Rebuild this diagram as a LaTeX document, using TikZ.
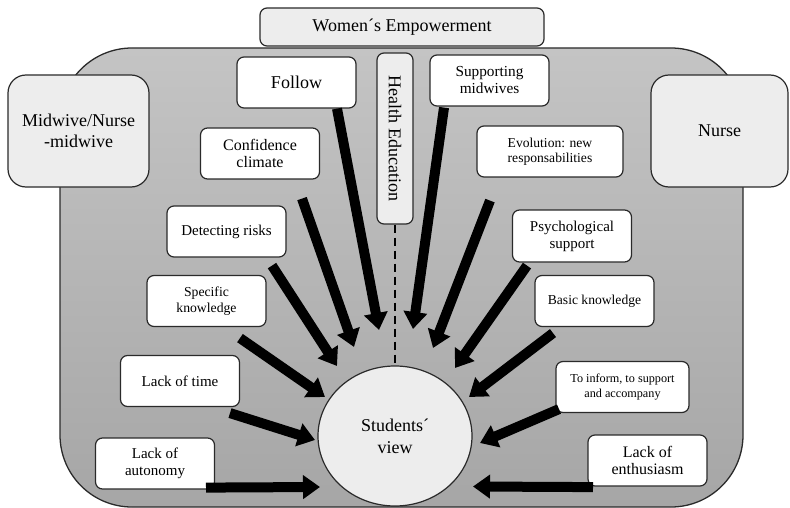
\documentclass[tikz,border=0pt]{standalone}
\usepackage{fontspec}
\setmainfont{Liberation Serif}
\usepackage{tikz}
\usetikzlibrary{arrows.meta,shapes.geometric,calc}
\definecolor{svline}{HTML}{2A2A2A}
\definecolor{svlight}{HTML}{EDEDED}
\definecolor{svtop}{HTML}{C4C4C4}
\definecolor{svbottom}{HTML}{A6A6A6}

\begin{document}
\begin{tikzpicture}[x=1pt, y=-1pt,
  frame/.style={draw=svline, line width=1.3pt, rounded corners=72pt,
    top color=svtop, bottom color=svbottom, minimum width=683pt, minimum height=459pt},
  role/.style={draw=svline, line width=1.2pt, fill=svlight, rounded corners=18pt, align=center,
    inner sep=2pt, font=\fontsize{18}{21}\selectfont},
  theme/.style={draw=svline, line width=1.2pt, fill=svlight, rounded corners=7pt, align=center,
    inner sep=2pt, font=\fontsize{18}{21}\selectfont},
  cue/.style={draw=svline, line width=1.2pt, fill=white, rounded corners=7pt, align=center,
    inner sep=2pt, minimum width=119pt, minimum height=51pt, font=\fontsize{15}{17}\selectfont},
  view/.style={draw=svline, line width=1.2pt, fill=svlight, ellipse, inner sep=0pt,
    minimum width=154pt, minimum height=140pt, align=center, font=\fontsize{18}{22}\selectfont},
  push/.style={draw=black, line width=10pt, -{Triangle[width=23pt,length=17pt]}},
  link/.style={draw=black, line width=1.6pt, dash pattern=on 8pt off 5pt}]
  \useasboundingbox (0,0) rectangle (790,508);
  \node[frame] (area) at (401.5,277.5) {};
  \node[theme, minimum width=284pt, minimum height=38pt] (women) at (402,27) {Women´s Empowerment};
  \node[theme, rotate=-90, minimum width=171pt, minimum height=36pt] (health) at (395,138.5) {Health Education};
  \node[role, minimum width=141pt, minimum height=112pt] (midwife) at (78.5,131) {Midwive/Nurse\\-midwive};
  \node[role, minimum width=137pt, minimum height=112pt] (nurse) at (719.5,131) {Nurse};
  \node[view] (sv) at (395,436) {Students´\\view};
  % left column
  \node[cue, font=\fontsize{18}{20}\selectfont] (follow) at (296.5,82.5) {Follow};
  \node[cue, font=\fontsize{16}{17}\selectfont] (confidence) at (260,153.5) {Confidence\\climate};
  \node[cue] (detecting) at (226.5,231.5) {Detecting risks};
  \node[cue, font=\fontsize{13.7}{15.5}\selectfont] (specific) at (206.5,301) {Specific\\knowledge};
  \node[cue] (lacktime) at (180,381) {Lack of time};
  \node[cue] (autonomy) at (155,463.5) {Lack of\\autonomy};
  % right column
  \node[cue, font=\fontsize{15.3}{17}\selectfont] (supporting) at (489.5,80.5) {Supporting\\midwives};
  \node[cue, minimum width=146pt, font=\fontsize{13.6}{15}\selectfont] (evolution) at (550,151.5) {Evolution: new\\responsabilities};
  \node[cue, minimum height=52pt] (psych) at (572,236) {Psychological\\support};
  \node[cue, font=\fontsize{13.6}{15}\selectfont] (basic) at (594.5,301) {Basic knowledge};
  \node[cue, minimum width=133pt, font=\fontsize{12.2}{15.5}\selectfont] (inform) at (622.5,387) {To inform, to support\\and accompany};
  \node[cue, font=\fontsize{16}{17}\selectfont] (enthusiasm) at (647.5,460.5) {Lack of\\enthusiasm};
  % arrow heads around the view
  \coordinate (in-follow) at (379,330);
  \coordinate (in-confidence) at (354,347);
  \coordinate (in-detecting) at (337,366);
  \coordinate (in-specific) at (325,397);
  \coordinate (in-lacktime) at (315,440);
  \coordinate (in-autonomy) at (320,487);
  \coordinate (in-supporting) at (413,329);
  \coordinate (in-evolution) at (433,348);
  \coordinate (in-psych) at (455,368);
  \coordinate (in-basic) at (469,397);
  \coordinate (in-inform) at (480,443);
  \coordinate (in-enthusiasm) at (473,486.5);
  \draw[link] (health.east) -- (sv.north);
  \foreach \b/\o in {follow/{40.5,0}, confidence/{42,19}, detecting/{45.5,8},
      specific/{33.5,11}, lacktime/{50,6}, autonomy/{51,-2},
      supporting/{-45.5,1}, evolution/{-60,23}, psych/{-45,3},
      basic/{-41.5,6}, inform/{-63.5,-4}, enthusiasm/{-54.5,0.5}}
    \draw[push] ($(\b.south)+(\o)$) -- (in-\b);
\end{tikzpicture}
\end{document}
